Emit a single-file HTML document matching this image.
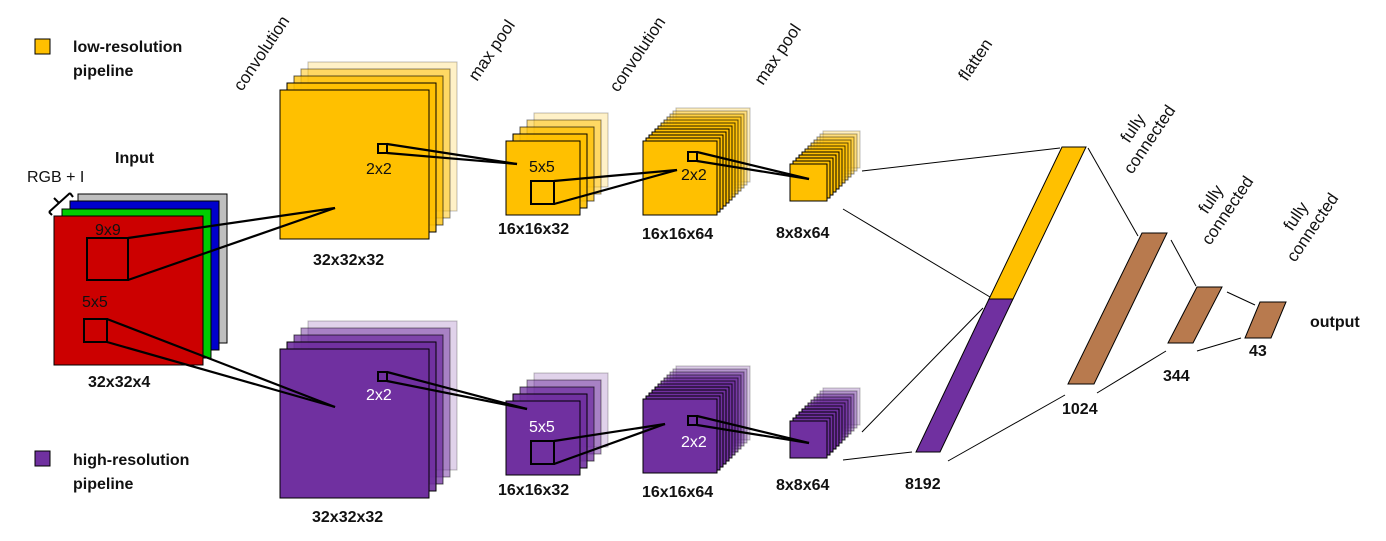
<!DOCTYPE html>
<html><head><meta charset="utf-8"><style>
html,body{margin:0;padding:0;background:#fff;width:1386px;height:541px;overflow:hidden}
svg{display:block}
text{font-family:"Liberation Sans",sans-serif}
.b{font-weight:bold;font-size:16px;fill:#111}
.r{font-size:16px;fill:#111}
.h{font-size:17px;fill:#111}
</style></head><body>
<svg width="1386" height="541" viewBox="0 0 1386 541" xmlns="http://www.w3.org/2000/svg">
<!-- legend -->
<rect x="35" y="39" width="15" height="15" fill="#FFC000" stroke="#000" stroke-width="1"/>
<text class="b" x="73" y="52">low-resolution</text>
<text class="b" x="73" y="76">pipeline</text>
<rect x="35" y="451" width="15" height="15" fill="#7030A0" stroke="#000" stroke-width="1"/>
<text class="b" x="73" y="465">high-resolution</text>
<text class="b" x="73" y="489">pipeline</text>

<!-- rotated headers -->
<text class="h" transform="translate(242,92) rotate(-56)">convolution</text>
<text class="h" transform="translate(477,82) rotate(-56)">max pool</text>
<text class="h" transform="translate(618,93) rotate(-56)">convolution</text>
<text class="h" transform="translate(763,86) rotate(-56)">max pool</text>
<text class="h" transform="translate(967,82) rotate(-56)">flatten</text>
<g transform="translate(1140,133) rotate(-56)" text-anchor="middle"><text class="h" x="0" y="-3">fully</text><text class="h" x="0" y="17">connected</text></g>
<g transform="translate(1218,204) rotate(-56)" text-anchor="middle"><text class="h" x="0" y="-3">fully</text><text class="h" x="0" y="17">connected</text></g>
<g transform="translate(1303,221) rotate(-56)" text-anchor="middle"><text class="h" x="0" y="-3">fully</text><text class="h" x="0" y="17">connected</text></g>

<!-- input -->
<text class="b" x="115" y="163">Input</text>
<text class="r" x="27" y="182" font-size="15">RGB + I</text>
<g stroke="#000" stroke-width="2" fill="none">
<line x1="49" y1="212" x2="70" y2="193"/><line x1="70" y1="193" x2="73" y2="197"/><line x1="49" y1="212" x2="52" y2="215"/><line x1="59" y1="203" x2="54" y2="198"/>
</g>
<rect x="78" y="194" width="149" height="149" fill="#BFBFBF" stroke="#000"/>
<rect x="70" y="201" width="149" height="149" fill="#0000CC" stroke="#000"/>
<rect x="62" y="209" width="149" height="149" fill="#00CC00" stroke="#000"/>
<rect x="54" y="216" width="149" height="149" fill="#CC0000" stroke="#000"/>
<text class="r" x="95" y="235">9x9</text>
<rect x="87" y="238" width="41" height="42" fill="none" stroke="#000" stroke-width="2"/>
<text class="r" x="82" y="307">5x5</text>
<rect x="84" y="319" width="23" height="23" fill="none" stroke="#000" stroke-width="2"/>
<text class="b" x="88" y="387">32x32x4</text>

<!-- big top stack -->
<g stroke="#000">
<rect x="308" y="62" width="149" height="149" fill="#FFC000" fill-opacity=".22" stroke-opacity=".25"/>
<rect x="301" y="69" width="149" height="149" fill="#FFC000" fill-opacity=".5" stroke-opacity=".45"/>
<rect x="294" y="76" width="149" height="149" fill="#FFC000" fill-opacity=".75" stroke-opacity=".65"/>
<rect x="287" y="83" width="149" height="149" fill="#FFC000" fill-opacity=".9"/>
<rect x="280" y="90" width="149" height="149" fill="#FFC000"/>
</g>
<text class="r" x="366" y="174">2x2</text>
<rect x="378" y="144" width="9" height="9" fill="none" stroke="#000" stroke-width="2"/>
<text class="b" x="313" y="265">32x32x32</text>

<!-- big bottom stack -->
<g stroke="#000">
<rect x="308" y="321" width="149" height="149" fill="#7030A0" fill-opacity=".22" stroke-opacity=".25"/>
<rect x="301" y="328" width="149" height="149" fill="#7030A0" fill-opacity=".5" stroke-opacity=".45"/>
<rect x="294" y="335" width="149" height="149" fill="#7030A0" fill-opacity=".75" stroke-opacity=".65"/>
<rect x="287" y="342" width="149" height="149" fill="#7030A0" fill-opacity=".9"/>
<rect x="280" y="349" width="149" height="149" fill="#7030A0"/>
</g>
<text class="r" x="366" y="400" style="fill:#fff">2x2</text>
<rect x="378" y="372" width="9" height="9" fill="none" stroke="#000" stroke-width="2"/>
<text class="b" x="312" y="522">32x32x32</text>

<!-- stack2 top -->
<g stroke="#000">
<rect x="534" y="113" width="74" height="74" fill="#FFC000" fill-opacity=".22" stroke-opacity=".25"/>
<rect x="527" y="120" width="74" height="74" fill="#FFC000" fill-opacity=".5" stroke-opacity=".45"/>
<rect x="520" y="127" width="74" height="74" fill="#FFC000" fill-opacity=".75" stroke-opacity=".65"/>
<rect x="513" y="134" width="74" height="74" fill="#FFC000" fill-opacity=".9"/>
<rect x="506" y="141" width="74" height="74" fill="#FFC000"/>
</g>
<text class="r" x="529" y="172">5x5</text>
<rect x="531" y="181" width="23" height="23" fill="none" stroke="#000" stroke-width="2"/>
<text class="b" x="498" y="234">16x16x32</text>
<!-- stack2 bottom -->
<g stroke="#000">
<rect x="534" y="373" width="74" height="74" fill="#7030A0" fill-opacity=".22" stroke-opacity=".25"/>
<rect x="527" y="380" width="74" height="74" fill="#7030A0" fill-opacity=".5" stroke-opacity=".45"/>
<rect x="520" y="387" width="74" height="74" fill="#7030A0" fill-opacity=".75" stroke-opacity=".65"/>
<rect x="513" y="394" width="74" height="74" fill="#7030A0" fill-opacity=".9"/>
<rect x="506" y="401" width="74" height="74" fill="#7030A0"/>
</g>
<text class="r" x="529" y="432" style="fill:#fff">5x5</text>
<rect x="531" y="441" width="23" height="23" fill="none" stroke="#000" stroke-width="2"/>
<text class="b" x="498" y="495">16x16x32</text>

<!-- stack3 top -->
<g stroke="#000">
<rect x="676" y="108" width="74" height="74" fill="#FFC000" fill-opacity=".25" stroke-opacity=".25"/>
<rect x="673" y="111" width="74" height="74" fill="#FFC000" fill-opacity=".35" stroke-opacity=".35"/>
<rect x="670" y="114" width="74" height="74" fill="#FFC000" fill-opacity=".45" stroke-opacity=".45"/>
<rect x="667" y="117" width="74" height="74" fill="#FFC000" fill-opacity=".55" stroke-opacity=".55"/>
<rect x="664" y="120" width="74" height="74" fill="#FFC000" fill-opacity=".65" stroke-opacity=".65"/>
<rect x="661" y="123" width="74" height="74" fill="#FFC000" fill-opacity=".75" stroke-opacity=".75"/>
<rect x="658" y="126" width="74" height="74" fill="#FFC000" fill-opacity=".85" stroke-opacity=".85"/>
<rect x="655" y="129" width="74" height="74" fill="#FFC000"/>
<rect x="652" y="132" width="74" height="74" fill="#FFC000"/>
<rect x="649" y="135" width="74" height="74" fill="#FFC000"/>
<rect x="646" y="138" width="74" height="74" fill="#FFC000"/>
<rect x="643" y="141" width="74" height="74" fill="#FFC000"/>
</g>
<text class="r" x="681" y="180">2x2</text>
<rect x="688" y="152" width="9" height="9" fill="none" stroke="#000" stroke-width="2"/>
<text class="b" x="642" y="239">16x16x64</text>
<!-- stack3 bottom -->
<g stroke="#000">
<rect x="676" y="366" width="74" height="74" fill="#7030A0" fill-opacity=".25" stroke-opacity=".25"/>
<rect x="673" y="369" width="74" height="74" fill="#7030A0" fill-opacity=".35" stroke-opacity=".35"/>
<rect x="670" y="372" width="74" height="74" fill="#7030A0" fill-opacity=".45" stroke-opacity=".45"/>
<rect x="667" y="375" width="74" height="74" fill="#7030A0" fill-opacity=".55" stroke-opacity=".55"/>
<rect x="664" y="378" width="74" height="74" fill="#7030A0" fill-opacity=".65" stroke-opacity=".65"/>
<rect x="661" y="381" width="74" height="74" fill="#7030A0" fill-opacity=".75" stroke-opacity=".75"/>
<rect x="658" y="384" width="74" height="74" fill="#7030A0" fill-opacity=".85" stroke-opacity=".85"/>
<rect x="655" y="387" width="74" height="74" fill="#7030A0"/>
<rect x="652" y="390" width="74" height="74" fill="#7030A0"/>
<rect x="649" y="393" width="74" height="74" fill="#7030A0"/>
<rect x="646" y="396" width="74" height="74" fill="#7030A0"/>
<rect x="643" y="399" width="74" height="74" fill="#7030A0"/>
</g>
<text class="r" x="681" y="447" style="fill:#fff">2x2</text>
<rect x="688" y="416" width="9" height="9" fill="none" stroke="#000" stroke-width="2"/>
<text class="b" x="642" y="497">16x16x64</text>

<!-- stack4 top -->
<g stroke="#000">
<rect x="823" y="131" width="37" height="37" fill="#FFC000" fill-opacity=".25" stroke-opacity=".25"/>
<rect x="820" y="134" width="37" height="37" fill="#FFC000" fill-opacity=".35" stroke-opacity=".35"/>
<rect x="817" y="137" width="37" height="37" fill="#FFC000" fill-opacity=".45" stroke-opacity=".45"/>
<rect x="814" y="140" width="37" height="37" fill="#FFC000" fill-opacity=".55" stroke-opacity=".55"/>
<rect x="811" y="143" width="37" height="37" fill="#FFC000" fill-opacity=".65" stroke-opacity=".65"/>
<rect x="808" y="146" width="37" height="37" fill="#FFC000" fill-opacity=".75" stroke-opacity=".75"/>
<rect x="805" y="149" width="37" height="37" fill="#FFC000" fill-opacity=".85" stroke-opacity=".85"/>
<rect x="802" y="152" width="37" height="37" fill="#FFC000"/>
<rect x="799" y="155" width="37" height="37" fill="#FFC000"/>
<rect x="796" y="158" width="37" height="37" fill="#FFC000"/>
<rect x="793" y="161" width="37" height="37" fill="#FFC000"/>
<rect x="790" y="164" width="37" height="37" fill="#FFC000"/>
</g>
<text class="b" x="776" y="238">8x8x64</text>
<!-- stack4 bottom -->
<g stroke="#000">
<rect x="823" y="388" width="37" height="37" fill="#7030A0" fill-opacity=".25" stroke-opacity=".25"/>
<rect x="820" y="391" width="37" height="37" fill="#7030A0" fill-opacity=".35" stroke-opacity=".35"/>
<rect x="817" y="394" width="37" height="37" fill="#7030A0" fill-opacity=".45" stroke-opacity=".45"/>
<rect x="814" y="397" width="37" height="37" fill="#7030A0" fill-opacity=".55" stroke-opacity=".55"/>
<rect x="811" y="400" width="37" height="37" fill="#7030A0" fill-opacity=".65" stroke-opacity=".65"/>
<rect x="808" y="403" width="37" height="37" fill="#7030A0" fill-opacity=".75" stroke-opacity=".75"/>
<rect x="805" y="406" width="37" height="37" fill="#7030A0" fill-opacity=".85" stroke-opacity=".85"/>
<rect x="802" y="409" width="37" height="37" fill="#7030A0"/>
<rect x="799" y="412" width="37" height="37" fill="#7030A0"/>
<rect x="796" y="415" width="37" height="37" fill="#7030A0"/>
<rect x="793" y="418" width="37" height="37" fill="#7030A0"/>
<rect x="790" y="421" width="37" height="37" fill="#7030A0"/>
</g>
<text class="b" x="776" y="490">8x8x64</text>

<!-- thick connectors -->
<g stroke="#000" stroke-width="2.2" fill="none">
<line x1="128" y1="238" x2="335" y2="208"/><line x1="128" y1="280" x2="335" y2="208"/>
<line x1="107" y1="319" x2="335" y2="407"/><line x1="107" y1="342" x2="335" y2="407"/>
<line x1="387" y1="144" x2="517" y2="164"/><line x1="387" y1="153" x2="517" y2="164"/>
<line x1="554" y1="181" x2="677" y2="170"/><line x1="554" y1="204" x2="677" y2="170"/>
<line x1="697" y1="152" x2="809" y2="179"/><line x1="697" y1="161" x2="809" y2="179"/>
<line x1="387" y1="372" x2="527" y2="409"/><line x1="387" y1="381" x2="527" y2="409"/>
<line x1="554" y1="441" x2="665" y2="424"/><line x1="554" y1="464" x2="665" y2="424"/>
<line x1="697" y1="416" x2="809" y2="443"/><line x1="697" y1="425" x2="809" y2="443"/>
</g>

<!-- dense layers -->
<g stroke="#000" stroke-width="1">
<polygon points="1062,147 1086,147 1013,299 989,299" fill="#FFC000"/>
<polygon points="989,299 1013,299 940,452 916,452" fill="#7030A0"/>
<polygon points="1142,233 1167,233 1094,384 1068,384" fill="#B87A4E"/>
<polygon points="1197,287 1222,287 1193,343 1168,343" fill="#B87A4E"/>
<polygon points="1260,302 1286,302 1271,338 1245,338" fill="#B87A4E"/>
</g>
<g stroke="#000" stroke-width="1" fill="none">
<line x1="862" y1="171" x2="1060" y2="148"/>
<line x1="843" y1="209" x2="990" y2="297"/>
<line x1="862" y1="432" x2="983" y2="308"/>
<line x1="843" y1="460" x2="912" y2="452"/>
<line x1="948" y1="461" x2="1065" y2="395"/>
<line x1="1088" y1="148" x2="1138" y2="236"/>
<line x1="1171" y1="240" x2="1196" y2="286"/>
<line x1="1097" y1="393" x2="1166" y2="351"/>
<line x1="1227" y1="292" x2="1255" y2="305"/>
<line x1="1197" y1="351" x2="1241" y2="338"/>
</g>
<text class="b" x="905" y="489">8192</text>
<text class="b" x="1062" y="414">1024</text>
<text class="b" x="1163" y="381">344</text>
<text class="b" x="1249" y="356">43</text>
<text class="b" x="1310" y="327">output</text>
</svg>
</body></html>
